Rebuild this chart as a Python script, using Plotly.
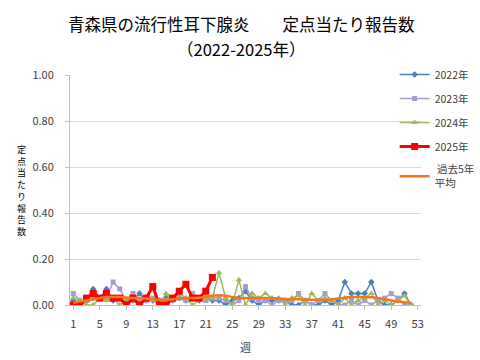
import plotly.graph_objects as go

weeks = list(range(1, 53))
tick_weeks = list(range(1, 54, 4))

y2022 = [0.02, 0.00, 0.02, 0.07, 0.03, 0.07, 0.02, 0.03, 0.00, 0.02,
         0.05, 0.02, 0.02, 0.02, 0.03, 0.02, 0.03, 0.02, 0.03, 0.02,
         0.03, 0.02, 0.02, 0.00, 0.02, 0.03, 0.06, 0.02, 0.00, 0.02,
         0.02, 0.02, 0.02, 0.00, 0.00, 0.02, 0.00, 0.00, 0.02, 0.00,
         0.02, 0.10, 0.05, 0.05, 0.05, 0.10, 0.02, 0.00, 0.00, 0.02,
         0.05, 0.00]
y2023 = [0.05, 0.02, 0.02, 0.03, 0.03, 0.03, 0.10, 0.07, 0.02, 0.05,
         0.02, 0.02, 0.03, 0.02, 0.02, 0.02, 0.03, 0.02, 0.05, 0.03,
         0.02, 0.03, 0.03, 0.02, 0.00, 0.02, 0.08, 0.03, 0.02, 0.02,
         0.00, 0.02, 0.02, 0.02, 0.05, 0.02, 0.00, 0.02, 0.05, 0.02,
         0.00, 0.00, 0.02, 0.00, 0.02, 0.00, 0.02, 0.03, 0.05, 0.03,
         0.00, 0.00]
y2024 = [0.03, 0.02, 0.00, 0.00, 0.03, 0.02, 0.03, 0.00, 0.02, 0.02,
         0.00, 0.02, 0.02, 0.00, 0.05, 0.02, 0.05, 0.03, 0.00, 0.02,
         0.02, 0.03, 0.14, 0.03, 0.00, 0.11, 0.00, 0.05, 0.03, 0.05,
         0.03, 0.03, 0.00, 0.03, 0.04, 0.00, 0.05, 0.02, 0.03, 0.02,
         0.00, 0.03, 0.00, 0.02, 0.03, 0.05, 0.00, 0.02, 0.00, 0.02,
         0.04, 0.00]
y2025 = [0.00, 0.00, 0.03, 0.05, 0.03, 0.05, 0.03, 0.03, 0.00, 0.03,
         0.00, 0.03, 0.08, 0.00, 0.00, 0.03, 0.06, 0.09, 0.03, 0.03,
         0.06, 0.12]
avg5 = [0.010, 0.015, 0.020, 0.025, 0.030, 0.035, 0.035, 0.035, 0.033, 0.030,
        0.030, 0.028, 0.025, 0.022, 0.022, 0.025, 0.028, 0.030, 0.030, 0.032,
        0.035, 0.040, 0.042, 0.040, 0.035, 0.030, 0.030, 0.030, 0.030, 0.030,
        0.030, 0.028, 0.025, 0.025, 0.025, 0.024, 0.023, 0.022, 0.022, 0.024,
        0.028, 0.032, 0.035, 0.035, 0.035, 0.034, 0.030, 0.025, 0.020, 0.015,
        0.012, 0.010]

FONT = "Noto Sans CJK JP"

fig = go.Figure()
fig.add_trace(go.Scatter(x=weeks, y=y2022, name="2022年", mode="lines+markers",
                         line=dict(color="#4A7EBB", width=1.5),
                         marker=dict(symbol="diamond", size=5, color="#4A7EBB"),
                         legendgroup="a"))
fig.add_trace(go.Scatter(x=weeks, y=y2023, name="2023年", mode="lines+markers",
                         line=dict(color="#A99BD0", width=1.5),
                         marker=dict(symbol="square", size=5, color="#A99BD0"),
                         legendgroup="b"))
fig.add_trace(go.Scatter(x=weeks, y=y2024, name="2024年", mode="lines+markers",
                         line=dict(color="#9BBB59", width=1.5),
                         marker=dict(symbol="triangle-up", size=6, color="#9BBB59"),
                         legendgroup="c"))
fig.add_trace(go.Scatter(x=weeks[:len(y2025)], y=y2025, name="2025年", mode="lines+markers",
                         line=dict(color="#FF0000", width=3),
                         marker=dict(symbol="square", size=7, color="#FF0000"),
                         legendgroup="d"))
fig.add_trace(go.Scatter(x=weeks, y=avg5, name=" 過去5年<br>平均", mode="lines",
                         line=dict(color="#F07818", width=2.5, shape="spline", smoothing=0.8),
                         legendgroup="e"))

fig.update_layout(
    width=480, height=360,
    margin=dict(l=70, r=59, t=75, b=55, autoexpand=False),
    paper_bgcolor="white", plot_bgcolor="white",
    font=dict(family=FONT, size=11, color="#404040"),
    showlegend=True,
    legend=dict(x=0.925, xanchor="left", y=1.065, yanchor="top",
                font=dict(family=FONT, size=10.5, color="#404040"),
                bgcolor="rgba(0,0,0,0)", tracegroupgap=5, itemwidth=30),
    xaxis=dict(range=[0.5, 53.5], tickmode="array", tickvals=tick_weeks,
               ticktext=[str(t) for t in tick_weeks], showgrid=False,
               showline=True, linecolor="#BFBFBF", linewidth=1,
               ticks="outside", ticklen=4, tickcolor="#BFBFBF",
               zeroline=False, ticklabelstandoff=5,
               title=dict(text="週", font=dict(family=FONT, size=11, color="#404040"), standoff=14),
               tickfont=dict(size=11, color="#404040")),
    yaxis=dict(range=[0, 1.0], tickmode="array", tickvals=[0, 0.2, 0.4, 0.6, 0.8, 1.0],
               tickformat=".2f", showgrid=True, gridcolor="#D9D9D9", gridwidth=1,
               showline=True, linecolor="#BFBFBF", linewidth=1,
               ticks="outside", ticklen=4, tickcolor="#BFBFBF",
               zeroline=False, ticklabelstandoff=9, tickfont=dict(size=11, color="#404040")),
    annotations=[
        dict(text="青森県の流行性耳下腺炎　　定点当たり報告数", xref="paper", yref="paper",
             x=(241 - 70) / 351, y=1.222, xanchor="center", yanchor="middle", showarrow=False,
             font=dict(family=FONT, size=16.5, color="black")),
        dict(text="（2022-2025年）", xref="paper", yref="paper",
             x=(241 - 70) / 351, y=1.113, xanchor="center", yanchor="middle", showarrow=False,
             font=dict(family=FONT, size=16.5, color="black")),
        dict(text="<br>".join(list("定点当たり報告数")), xref="paper", yref="paper",
             x=-0.137, y=0.5, xanchor="center", yanchor="middle", showarrow=False,
             font=dict(family=FONT, size=9, color="black")),
    ],
)

fig.write_html("out.html", config={"displayModeBar": False},
               post_script="document.body.style.margin='0';")
